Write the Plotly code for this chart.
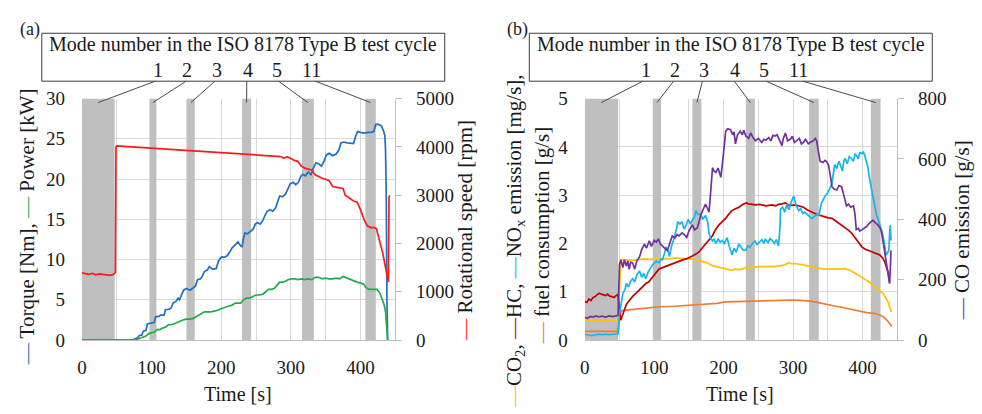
import plotly.graph_objects as go

W, H = 982, 414

# ---------------- data: panel (a) ----------------
torque_t = [0, 70, 75, 80, 83, 86, 88, 92, 94, 100, 104, 106, 110, 113, 118, 120, 125, 128, 131, 135, 138, 140, 143, 146, 150, 155, 160, 163, 166, 170, 172, 176, 180, 183, 188, 193, 196, 200, 205, 209, 212, 216, 220, 224, 228, 230, 232, 234, 238, 242, 246, 249, 252, 256, 260, 263, 266, 270, 274, 278, 281, 284, 288, 292, 296, 299, 303, 307, 311, 314, 317, 321, 325, 329, 332, 336, 340, 344, 348, 351, 355, 360, 365, 369, 372, 376, 381, 386, 390, 393, 396, 400, 405, 410, 415, 419, 422, 426, 430, 433, 435, 436, 437, 438, 439]
torque_v = [0, 0, 0.1, 0.3, 0.6, 0.6, 1.1, 1.2, 2.0, 2.1, 2.2, 2.9, 2.9, 3.1, 3.1, 3.8, 3.8, 4.0, 4.6, 4.8, 5.2, 5.0, 5.5, 6.2, 6.4, 6.2, 6.5, 6.7, 7.5, 7.6, 7.8, 8.5, 8.7, 9.1, 8.8, 8.9, 9.8, 10.3, 10.3, 10.5, 10.9, 11.5, 11.8, 12.2, 11.7, 11.6, 12.6, 13.3, 13.2, 13.5, 13.8, 14.4, 14.6, 14.4, 14.9, 15.5, 16.0, 16.2, 16.0, 16.4, 17.2, 17.9, 17.8, 18.1, 18.8, 19.4, 19.6, 19.3, 19.6, 20.3, 20.6, 20.4, 20.9, 20.5, 21.3, 22.0, 21.9, 21.6, 22.3, 23.0, 23.2, 22.9, 23.1, 23.6, 24.5, 24.6, 24.5, 24.4, 24.4, 25.3, 25.9, 25.8, 25.7, 25.8, 25.8, 25.9, 26.8, 26.8, 26.6, 26.0, 25.4, 23.5, 18.0, 5.0, 0]

power_t = [0, 78, 82, 88, 92, 96, 100, 104, 108, 112, 116, 120, 124, 128, 132, 136, 140, 145, 150, 155, 160, 164, 168, 172, 176, 180, 185, 190, 195, 200, 205, 210, 215, 220, 224, 228, 232, 236, 240, 245, 250, 255, 260, 264, 268, 272, 276, 280, 284, 288, 292, 296, 300, 305, 310, 315, 320, 325, 330, 335, 340, 345, 350, 355, 360, 365, 370, 375, 380, 385, 390, 395, 400, 405, 408, 412, 416, 420, 424, 428, 431, 434, 436, 437, 438, 439]
power_v = [0, 0, 0.2, 0.4, 0.5, 0.8, 0.9, 1.0, 1.3, 1.3, 1.5, 1.6, 1.9, 1.9, 2.0, 2.2, 2.3, 2.5, 2.6, 2.6, 2.7, 2.9, 3.1, 3.2, 3.5, 3.5, 3.5, 3.6, 3.7, 3.9, 4.1, 4.2, 4.3, 4.6, 4.6, 4.6, 5.0, 5.2, 5.2, 5.4, 5.6, 5.6, 5.7, 6.0, 6.3, 6.3, 6.4, 6.8, 7.2, 7.2, 7.3, 7.5, 7.6, 7.6, 7.5, 7.6, 7.5, 7.6, 7.5, 7.8, 7.8, 7.6, 7.7, 7.6, 7.6, 7.7, 7.6, 7.9, 7.7, 7.6, 7.4, 7.2, 7.1, 6.9, 6.5, 6.3, 6.3, 6.3, 6.3, 5.8, 5.2, 4.4, 3.5, 2.5, 0.5, 0]

speed_t = [0, 5, 10, 15, 20, 25, 30, 35, 40, 45, 48, 49, 50, 60, 70, 80, 90, 100, 110, 120, 130, 140, 150, 160, 170, 180, 190, 200, 210, 220, 230, 240, 250, 260, 270, 280, 285, 290, 295, 300, 305, 310, 315, 320, 325, 330, 335, 340, 345, 350, 355, 360, 365, 370, 375, 378, 385, 390, 395, 400, 405, 410, 415, 420, 423, 428, 432, 436, 440, 441, 442]
speed_v = [1390, 1370, 1360, 1380, 1350, 1370, 1360, 1350, 1340, 1360, 1400, 4000, 4020, 4010, 4000, 3990, 3980, 3975, 3960, 3950, 3940, 3930, 3920, 3910, 3900, 3890, 3880, 3870, 3860, 3850, 3840, 3830, 3820, 3810, 3800, 3790, 3800, 3770, 3790, 3760, 3720, 3700, 3600, 3560, 3540, 3520, 3420, 3380, 3350, 3330, 3300, 3180, 3160, 3150, 3140, 3000, 2930, 2880, 2860, 2700, 2500, 2360, 2330, 2330, 2300, 2050, 1800, 1500, 1200, 2950, 3000]

# ---------------- data: panel (b) ----------------
co_t = [0, 4, 8, 12, 16, 20, 25, 30, 35, 40, 45, 48, 50, 52, 55, 57, 60, 62, 64, 66, 69, 72, 75, 79, 82, 86, 89, 93, 96, 100, 103, 106, 109, 112, 115, 119, 122, 126, 130, 133, 136, 140, 143, 147, 150, 153, 155, 158, 162, 165, 167, 170, 174, 176, 179, 181, 184, 186, 189, 192, 196, 199, 201, 203, 206, 210, 213, 215, 217, 220, 224, 227, 229, 232, 236, 239, 242, 246, 250, 255, 258, 261, 265, 268, 271, 274, 277, 280, 284, 286, 289, 292, 296, 299, 302, 305, 309, 312, 315, 318, 322, 325, 329, 332, 334, 336, 339, 343, 346, 348, 351, 354, 356, 359, 363, 366, 370, 373, 375, 377, 380, 383, 387, 389, 391, 394, 396, 399, 403, 406, 409, 412, 415, 418, 422, 425, 427, 430, 432, 434, 436, 438, 439, 440, 441]
co_v = [75, 72, 78, 76, 80, 77, 79, 76, 80, 78, 80, 82, 250, 265, 240, 266, 245, 262, 234, 258, 255, 235, 262, 276, 300, 318, 305, 329, 310, 330, 324, 335, 318, 313, 305, 297, 320, 345, 338, 350, 345, 355, 350, 340, 361, 372, 382, 365, 371, 395, 413, 430, 450, 440, 424, 480, 571, 560, 555, 570, 539, 600, 660, 692, 700, 697, 680, 690, 650, 680, 692, 680, 695, 676, 668, 686, 672, 660, 668, 655, 665, 662, 671, 660, 678, 676, 680, 662, 644, 668, 686, 660, 665, 675, 655, 660, 668, 650, 655, 665, 650, 655, 660, 668, 660, 630, 592, 588, 595, 592, 580, 540, 508, 500, 497, 512, 508, 480, 460, 445, 450, 440, 445, 420, 366, 370, 361, 365, 372, 376, 385, 392, 397, 390, 382, 372, 361, 320, 290, 255, 230, 195, 187, 230, 297]

nox_t = [0, 5, 10, 15, 20, 25, 30, 35, 40, 45, 48, 50, 53, 55, 58, 60, 63, 66, 69, 72, 75, 79, 82, 85, 88, 91, 95, 99, 103, 107, 110, 112, 115, 117, 120, 122, 125, 129, 132, 134, 137, 140, 143, 146, 149, 152, 155, 158, 160, 163, 167, 170, 174, 177, 179, 181, 184, 186, 189, 192, 195, 198, 201, 205, 208, 210, 212, 215, 218, 222, 225, 228, 232, 235, 238, 241, 245, 248, 251, 255, 258, 260, 264, 267, 270, 273, 276, 279, 281, 282, 285, 288, 291, 294, 297, 301, 304, 308, 311, 314, 317, 320, 324, 327, 330, 334, 337, 339, 341, 344, 346, 350, 353, 356, 358, 360, 363, 366, 368, 371, 373, 375, 378, 381, 384, 387, 389, 391, 394, 396, 399, 401, 403, 405, 408, 410, 413, 416, 418, 420, 422, 425, 428, 430, 432, 434, 436, 438, 439, 440, 441]
nox_v = [0.12, 0.10, 0.09, 0.11, 0.12, 0.11, 0.12, 0.11, 0.12, 0.12, 0.13, 0.55, 0.85, 0.97, 1.05, 1.17, 1.10, 1.22, 1.27, 1.20, 1.35, 1.43, 1.30, 1.38, 1.27, 1.40, 1.50, 1.58, 1.63, 1.60, 1.68, 1.66, 1.80, 1.93, 1.85, 1.73, 1.95, 2.12, 2.30, 2.45, 2.40, 2.45, 2.30, 2.38, 2.50, 2.40, 2.48, 2.55, 2.68, 2.60, 2.61, 2.50, 2.58, 2.45, 2.20, 2.12, 2.05, 2.09, 2.00, 2.10, 2.02, 2.06, 2.00, 2.12, 1.95, 1.85, 1.76, 1.90, 1.82, 1.99, 1.92, 1.86, 1.86, 1.95, 1.92, 1.99, 2.05, 1.98, 2.02, 2.08, 2.00, 2.09, 2.02, 2.10, 2.06, 2.00, 2.08, 1.95, 2.30, 2.71, 2.75, 2.65, 2.81, 2.70, 2.85, 2.98, 2.80, 2.68, 2.72, 2.62, 2.65, 2.60, 2.55, 2.52, 2.55, 2.60, 2.58, 2.70, 2.84, 2.92, 2.98, 3.05, 3.15, 3.24, 3.45, 3.63, 3.55, 3.70, 3.63, 3.50, 3.70, 3.76, 3.65, 3.80, 3.76, 3.70, 3.85, 3.83, 3.75, 3.88, 3.86, 3.90, 3.83, 3.70, 3.57, 3.35, 3.11, 2.90, 2.71, 2.60, 2.52, 2.40, 2.25, 2.12, 1.90, 1.76, 1.80, 1.86, 2.20, 2.38, 2.06]

hc_t = [0, 3, 6, 9, 12, 15, 18, 21, 24, 27, 30, 33, 36, 39, 42, 45, 48, 50, 52, 54, 57, 60, 63, 66, 70, 74, 78, 82, 86, 88, 92, 95, 98, 102, 107, 112, 117, 122, 127, 132, 136, 141, 146, 150, 155, 160, 165, 170, 174, 179, 184, 188, 193, 198, 203, 207, 212, 217, 222, 227, 232, 236, 241, 246, 251, 256, 261, 265, 270, 275, 279, 284, 289, 293, 298, 303, 308, 312, 315, 320, 325, 330, 335, 341, 346, 351, 356, 361, 366, 370, 375, 380, 384, 389, 394, 399, 404, 409, 413, 418, 422, 425, 429, 432, 434, 437, 439]
hc_v = [0.80, 0.78, 0.85, 0.82, 0.88, 0.90, 0.94, 0.97, 0.95, 0.93, 0.92, 0.95, 0.91, 0.90, 0.88, 0.92, 0.94, 0.60, 0.41, 0.50, 0.62, 0.74, 0.80, 0.86, 0.92, 0.97, 1.03, 1.08, 1.13, 1.17, 1.20, 1.25, 1.30, 1.38, 1.47, 1.50, 1.53, 1.56, 1.58, 1.61, 1.63, 1.66, 1.68, 1.70, 1.74, 1.78, 1.83, 1.92, 1.99, 2.08, 2.16, 2.28, 2.38, 2.45, 2.52, 2.60, 2.68, 2.72, 2.75, 2.80, 2.84, 2.82, 2.81, 2.80, 2.81, 2.80, 2.78, 2.79, 2.80, 2.78, 2.81, 2.82, 2.84, 2.80, 2.79, 2.80, 2.78, 2.76, 2.75, 2.70, 2.66, 2.63, 2.60, 2.58, 2.55, 2.53, 2.52, 2.47, 2.42, 2.38, 2.33, 2.27, 2.22, 2.12, 2.02, 1.93, 1.88, 1.85, 1.83, 1.80, 1.78, 1.76, 1.70, 1.62, 1.53, 1.40, 1.20]

co2_t = [0, 10, 20, 30, 40, 48, 50, 52, 60, 70, 84, 95, 107, 120, 131, 143, 155, 162, 169, 176, 184, 190, 196, 203, 210, 217, 224, 232, 240, 251, 262, 274, 282, 289, 293, 298, 305, 313, 320, 327, 333, 337, 346, 356, 366, 375, 383, 391, 397, 403, 410, 418, 423, 427, 431, 434, 437, 440, 442]
co2_v = [0.41, 0.40, 0.40, 0.41, 0.40, 0.41, 1.00, 1.66, 1.66, 1.65, 1.68, 1.67, 1.68, 1.68, 1.70, 1.68, 1.68, 1.66, 1.63, 1.60, 1.54, 1.52, 1.50, 1.47, 1.45, 1.47, 1.46, 1.50, 1.50, 1.52, 1.52, 1.52, 1.54, 1.56, 1.60, 1.58, 1.58, 1.56, 1.55, 1.52, 1.49, 1.48, 1.47, 1.47, 1.48, 1.48, 1.44, 1.37, 1.32, 1.27, 1.20, 1.10, 1.05, 1.00, 0.94, 0.87, 0.78, 0.65, 0.58]

fuel_t = [0, 10, 20, 30, 40, 48, 50, 53, 60, 74, 90, 107, 130, 155, 179, 190, 203, 225, 251, 275, 298, 310, 322, 335, 346, 358, 370, 382, 394, 406, 418, 425, 430, 436, 442]
fuel_v = [0.18, 0.18, 0.18, 0.18, 0.18, 0.18, 0.50, 0.61, 0.62, 0.64, 0.66, 0.69, 0.70, 0.72, 0.74, 0.76, 0.79, 0.80, 0.81, 0.82, 0.83, 0.82, 0.81, 0.78, 0.74, 0.71, 0.68, 0.64, 0.60, 0.57, 0.55, 0.52, 0.48, 0.40, 0.28]

# ISO 8178 mode windows (start, end) in seconds
modes = ["1", "2", "3", "4", "5", "11"]
bands_a = [(0, 47), (97, 107), (151, 162), (230, 243), (316, 333), (407, 422)]
bands_b = [(0, 48), (98, 110), (155, 168), (232, 245), (323, 337), (412, 426)]

# axis ranges / tick steps
TMAX = 450
ya_range, ya_dtick = [0, 30], 5
y2a_range, y2a_dtick = [0, 5000], 1000
yb_range, yb_dtick = [0, 5], 1
y2b_range, y2b_dtick = [0, 800], 200

# ---------------- styling ----------------
FONT = "Liberation Serif, Times New Roman, serif"
TXT = "#1a1a1a"
GRID = "#d9d9d9"
AX = "#bfbfbf"
BAND = "#bfbfbf"
C_TORQUE, C_POWER, C_SPEED = "#1F6FC5", "#22AA4A", "#FF1A1A"
C_CO2, C_HC, C_NOX, C_FUEL, C_CO = "#FFC000", "#C00000", "#14B4EE", "#ED7D31", "#7030A0"


def px(x):
    return x / W


def py(y):
    return 1 - y / H


dom_xa = [px(77.3), px(392.3)]
dom_xb = [px(582.7), px(896.8)]
dom_y = [py(347.7), py(93.3)]

fig = go.Figure()
LW = 1.7


def add_bands(bands, xa, ya, yr):
    for (a, b) in bands:
        fig.add_trace(go.Scatter(x=[a, a, b, b, a], y=[yr[0], yr[1], yr[1], yr[0], yr[0]],
                                 mode="lines", fill="toself", fillcolor=BAND, line=dict(width=0),
                                 hoverinfo="skip", xaxis=xa, yaxis=ya))


add_bands(bands_a, "x", "y", ya_range)
add_bands(bands_b, "x2", "y3", yb_range)

fig.add_trace(go.Scatter(x=torque_t, y=torque_v, mode="lines", line=dict(color=C_TORQUE, width=LW), xaxis="x", yaxis="y"))
fig.add_trace(go.Scatter(x=power_t, y=power_v, mode="lines", line=dict(color=C_POWER, width=LW), xaxis="x", yaxis="y"))
fig.add_trace(go.Scatter(x=speed_t, y=speed_v, mode="lines", line=dict(color=C_SPEED, width=LW), xaxis="x", yaxis="y2"))

fig.add_trace(go.Scatter(x=fuel_t, y=fuel_v, mode="lines", line=dict(color=C_FUEL, width=LW), xaxis="x2", yaxis="y3"))
fig.add_trace(go.Scatter(x=co2_t, y=co2_v, mode="lines", line=dict(color=C_CO2, width=LW), xaxis="x2", yaxis="y3"))
fig.add_trace(go.Scatter(x=hc_t, y=hc_v, mode="lines", line=dict(color=C_HC, width=LW), xaxis="x2", yaxis="y3"))
fig.add_trace(go.Scatter(x=nox_t, y=nox_v, mode="lines", line=dict(color=C_NOX, width=LW), xaxis="x2", yaxis="y3"))
fig.add_trace(go.Scatter(x=co_t, y=co_v, mode="lines", line=dict(color=C_CO, width=LW), xaxis="x2", yaxis="y4"))

tickfont = dict(family=FONT, size=19, color=TXT)


def xaxis(domain, anchor):
    return dict(domain=domain, anchor=anchor, range=[0, TMAX], tick0=0, dtick=100,
                showgrid=True, gridcolor=GRID, gridwidth=1,
                minor=dict(dtick=50, showgrid=True, gridcolor=GRID, gridwidth=1),
                showline=True, linecolor=AX, linewidth=1, zeroline=False,
                ticks="", tickfont=tickfont, ticklabelstandoff=10, fixedrange=True)


def yleft(rng, dt, anchor):
    return dict(domain=dom_y, anchor=anchor, range=rng, dtick=dt, tick0=0,
                showgrid=True, gridcolor=GRID, gridwidth=1, zeroline=False,
                showline=False, ticks="", tickfont=tickfont, ticklabelstandoff=16)


def yright(rng, dt, anchor, over):
    return dict(domain=dom_y, anchor=anchor, overlaying=over, side="right", range=rng,
                dtick=dt, tick0=0, showgrid=False, zeroline=False, showline=True,
                linecolor=AX, linewidth=1, ticks="outside", ticklen=6, tickcolor=AX,
                tickfont=tickfont, ticklabelstandoff=10)


shapes = []
annotations = []
num_x_a = [154, 183, 213, 244, 273, 308]
line_start_a = [151, 182, 211, 243, 275, 312]


def add_header(off, label, label_x, bands, dom):
    shapes.append(dict(type="rect", xref="paper", yref="paper", x0=px(37 + off), x1=px(442 + off),
                       y0=py(75), y1=py(24.5), line=dict(color="#3a3a3a", width=1)))
    annotations.append(dict(text="Mode number in the ISO 8178 Type B test cycle", xref="paper", yref="paper",
                            x=px(239.5 + off), y=py(36), showarrow=False, xanchor="center", yanchor="middle",
                            font=dict(family=FONT, size=20, color=TXT)))
    annotations.append(dict(text=label, xref="paper", yref="paper", x=px(label_x), y=py(21), showarrow=False,
                            xanchor="center", yanchor="middle", font=dict(family=FONT, size=18, color=TXT)))
    for m, nx, sx, (a, b) in zip(modes, num_x_a, line_start_a, bands):
        annotations.append(dict(text=m, xref="paper", yref="paper", x=px(nx + off), y=py(63), showarrow=False,
                                xanchor="center", yanchor="middle", font=dict(family=FONT, size=20, color=TXT)))
        cx = dom[0] + (a + b) / 2 / TMAX * (dom[1] - dom[0])
        shapes.append(dict(type="line", xref="paper", yref="paper", x0=px(sx + off), y0=py(75),
                           x1=cx, y1=py(97.5), line=dict(color="#4a4a4a", width=1)))


add_header(0, "(a)", 25, bands_a, dom_xa)
add_header(490, "(b)", 515, bands_b, dom_xb)


def dash(c):
    return f"<span style='color:{c}'>—</span>"


def vtitle(text, x, y, size=20):
    annotations.append(dict(text=text, xref="paper", yref="paper", x=px(x), y=py(y), textangle=-90,
                            showarrow=False, xanchor="center", yanchor="middle",
                            font=dict(family=FONT, size=size, color=TXT)))


vtitle(dash(C_TORQUE) + " Torque [Nm], " + dash(C_POWER) + " Power [kW]", 23, 228, 21)
vtitle(dash(C_SPEED) + " Rotational speed [rpm]", 463, 232, 21)
vtitle(dash(C_CO2) + "CO<sub>2</sub>, " + dash(C_HC) + "HC, " + dash(C_NOX) + "NO<sub>x</sub> emission [mg/s],", 512, 243, 21)
vtitle(dash(C_FUEL) + " fuel consumption [g/s]", 540, 238, 21)
vtitle(dash(C_CO) + " CO emission [g/s]", 962, 232, 21)

for cx in (234, 739):
    annotations.append(dict(text="Time [s]", xref="paper", yref="paper", x=px(cx), y=py(404), showarrow=False,
                            xanchor="center", yanchor="middle", font=dict(family=FONT, size=20, color=TXT)))

fig.update_layout(
    width=W, height=H, margin=dict(l=0, r=0, t=0, b=0),
    paper_bgcolor="white", plot_bgcolor="white", showlegend=False,
    xaxis=xaxis(dom_xa, "y"),
    xaxis2=xaxis(dom_xb, "y3"),
    yaxis=yleft(ya_range, ya_dtick, "x"),
    yaxis2=yright(y2a_range, y2a_dtick, "x", "y"),
    yaxis3=yleft(yb_range, yb_dtick, "x2"),
    yaxis4=yright(y2b_range, y2b_dtick, "x2", "y3"),
    shapes=shapes, annotations=annotations,
)

fig.write_html("out.html")
